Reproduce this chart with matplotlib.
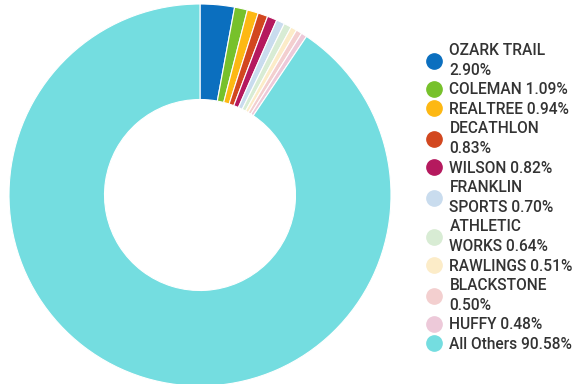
import matplotlib
matplotlib.use("Agg")
import matplotlib.pyplot as plt
from matplotlib.lines import Line2D

brands = ["OZARK TRAIL", "COLEMAN", "REALTREE", "DECATHLON", "WILSON",
          "FRANKLIN SPORTS", "ATHLETIC WORKS", "RAWLINGS", "BLACKSTONE",
          "HUFFY", "All Others"]
shares = [2.90, 1.09, 0.94, 0.83, 0.82, 0.70, 0.64, 0.51, 0.50, 0.48, 90.58]
legend_labels = ["OZARK TRAIL\n2.90%", "COLEMAN 1.09%", "REALTREE 0.94%",
                 "DECATHLON\n0.83%", "WILSON 0.82%", "FRANKLIN\nSPORTS 0.70%",
                 "ATHLETIC\nWORKS 0.64%", "RAWLINGS 0.51%", "BLACKSTONE\n0.50%",
                 "HUFFY 0.48%", "All Others 90.58%"]
colors = ["#0b6fbf", "#77c12b", "#fdb813", "#d2471f", "#b5195e", "#c9dcee",
          "#d8ecd4", "#fcecc8", "#f3cfcf", "#edc9d9", "#74dde0"]

plt.rcParams['font.family'] = ['Roboto', 'DejaVu Sans']

fig = plt.figure(figsize=(5.73, 3.84), dpi=100)
r_px = 191
cx, cy = 200, 195
ax = fig.add_axes([(cx - r_px) / 573, (384 - cy - r_px) / 384, 2 * r_px / 573, 2 * r_px / 384])
ax.pie(shares, colors=colors, startangle=90, counterclock=False,
       wedgeprops=dict(width=0.5, edgecolor="white", linewidth=0.8))
ax.set_aspect("equal")
ax.set_xlim(-1, 1)
ax.set_ylim(-1, 1)
ax.axis("off")

handles = [Line2D([0], [0], marker="o", linestyle="none", markersize=11,
                  markerfacecolor=c, markeredgecolor=c) for c in colors]
leg = fig.legend(handles, legend_labels, loc="upper left",
                 bbox_to_anchor=(425 / 573, 1 - 43 / 384), frameon=False,
                 prop=dict(family=['Roboto', 'DejaVu Sans'], size=11.2, weight='medium'),
                 labelspacing=0.28, handletextpad=0.42,
                 handlelength=1.15, borderaxespad=0, borderpad=0)
for t in leg.get_texts():
    t.set_color("#333333")
    t.set_linespacing(1.42)

fig.savefig("out.png", dpi=100)
